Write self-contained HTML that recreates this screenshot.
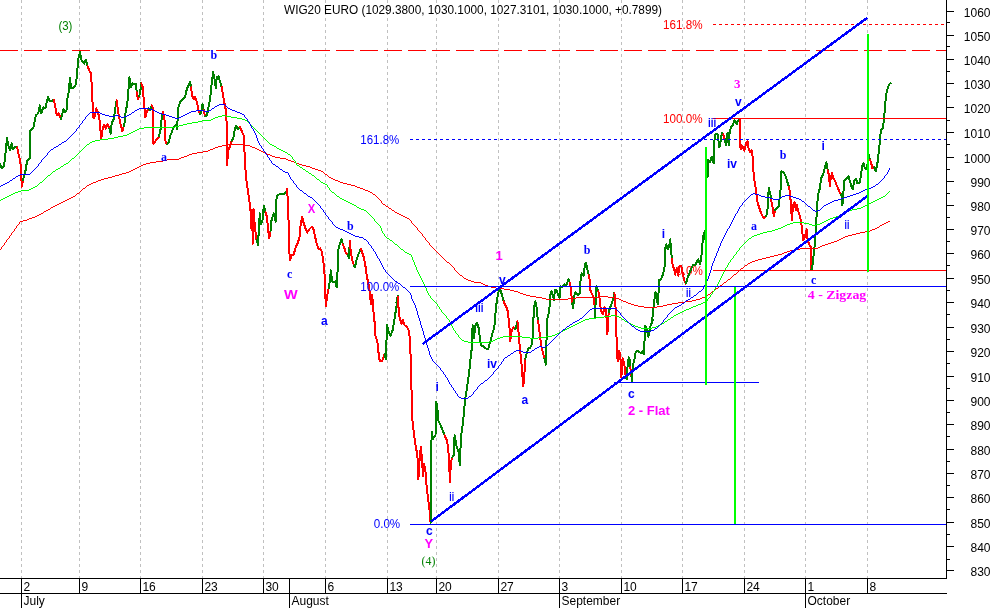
<!DOCTYPE html>
<html><head><meta charset="utf-8"><title>WIG20 EURO</title>
<style>html,body{margin:0;padding:0;background:#fff}svg{display:block}text{font-family:"Liberation Sans",Arial,sans-serif;font-size:12px}.b{font-weight:bold}</style></head><body>
<svg width="994" height="608" viewBox="0 0 994 608">
<rect width="994" height="608" fill="#fff"/>
<g stroke="#c0c0c0" stroke-width="1" stroke-dasharray="3 3" shape-rendering="crispEdges">
<line x1="21.5" y1="0" x2="21.5" y2="578"/>
<line x1="79.5" y1="0" x2="79.5" y2="578"/>
<line x1="140.5" y1="0" x2="140.5" y2="578"/>
<line x1="202.5" y1="0" x2="202.5" y2="578"/>
<line x1="263.5" y1="0" x2="263.5" y2="578"/>
<line x1="325.5" y1="0" x2="325.5" y2="578"/>
<line x1="387.5" y1="0" x2="387.5" y2="578"/>
<line x1="436.5" y1="0" x2="436.5" y2="578"/>
<line x1="498.5" y1="0" x2="498.5" y2="578"/>
<line x1="559.5" y1="0" x2="559.5" y2="578"/>
<line x1="621.5" y1="0" x2="621.5" y2="578"/>
<line x1="682.5" y1="0" x2="682.5" y2="578"/>
<line x1="744.5" y1="0" x2="744.5" y2="578"/>
<line x1="805.5" y1="0" x2="805.5" y2="578"/>
<line x1="867.5" y1="0" x2="867.5" y2="578"/>
</g>
<text x="676.3" y="274.6" fill="#f00" style='font-family:"Liberation Sans",Arial,sans-serif;font-size:12px' textLength="26.5" lengthAdjust="spacingAndGlyphs">0.0%</text>
<polyline points="0.0,164.4 2.0,168.4 4.0,166.4 5.6,152.3 7.0,138.2 8.5,146.3 10.1,150.3 11.7,143.3 13.1,149.3 15.1,146.7 17.1,147.3" fill="none" stroke="#008000" stroke-width="2" stroke-linejoin="round" stroke-linecap="round" shape-rendering="crispEdges"/>
<polyline points="17.1,147.3 18.5,154.3 20.1,160.4 21.1,168.4 21.7,186.9 22.3,183.5 23.1,180.1" fill="none" stroke="#f00" stroke-width="2" stroke-linejoin="round" stroke-linecap="round" shape-rendering="crispEdges"/>
<polyline points="23.1,180.1 24.1,175.5 25.2,172.4 27.2,160.4 29.8,158.4 30.0,140.2" fill="none" stroke="#008000" stroke-width="2" stroke-linejoin="round" stroke-linecap="round" shape-rendering="crispEdges"/>
<polyline points="30.0,140.2 30.0,140.6 30.2,130.5 33.2,128.5 35.8,115.5 38.2,113.4 39.8,105.4 41.2,113.4 43.3,107.4 45.3,108.4 47.9,97.3 49.9,101.4 52.7,100.4 53.9,100.0" fill="none" stroke="#008000" stroke-width="2" stroke-linejoin="round" stroke-linecap="round" shape-rendering="crispEdges"/>
<polyline points="53.9,100.0 55.3,106.4 56.7,115.5 58.8,113.4 60.8,118.9" fill="none" stroke="#f00" stroke-width="2" stroke-linejoin="round" stroke-linecap="round" shape-rendering="crispEdges"/>
<polyline points="60.8,118.9 62.0,115.5 63.4,109.4 64.8,112.4 66.4,111.4 67.4,98.4 68.8,91.3 70.0,78.2 71.0,88.3 72.8,88.3 75.5,85.3 76.9,76.2 78.1,60.1 79.9,52.1 81.5,60.1 84.1,63.7 85.9,59.7 87.5,65.8" fill="none" stroke="#008000" stroke-width="2" stroke-linejoin="round" stroke-linecap="round" shape-rendering="crispEdges"/>
<polyline points="87.5,65.8 89.5,71.2 90.9,73.2 92.2,92.3 93.0,117.5 94.2,118.5 96.2,108.4 98.2,112.8 99.6,120.5 101.2,138.6 102.6,129.5 104.2,124.5 105.6,128.5 107.6,124.1 109.3,128.5" fill="none" stroke="#f00" stroke-width="2" stroke-linejoin="round" stroke-linecap="round" shape-rendering="crispEdges"/>
<polyline points="109.3,128.5 110.7,133.6 111.7,122.5 113.7,119.5 115.1,109.4 116.7,100.4" fill="none" stroke="#008000" stroke-width="2" stroke-linejoin="round" stroke-linecap="round" shape-rendering="crispEdges"/>
<polyline points="116.7,100.4 117.7,108.4 119.1,117.5 120.7,124.5 122.3,131.5 123.7,126.5" fill="none" stroke="#f00" stroke-width="2" stroke-linejoin="round" stroke-linecap="round" shape-rendering="crispEdges"/>
<polyline points="123.7,126.5 124.7,122.5 125.8,109.4 127.2,105.4 128.4,90.3 129.4,77.2 130.8,87.3 132.4,83.3 134.4,84.3 135.8,83.9 136.8,92.3" fill="none" stroke="#008000" stroke-width="2" stroke-linejoin="round" stroke-linecap="round" shape-rendering="crispEdges"/>
<polyline points="136.8,92.3 138.0,99.4 139.2,96.3" fill="none" stroke="#f00" stroke-width="2" stroke-linejoin="round" stroke-linecap="round" shape-rendering="crispEdges"/>
<polyline points="139.2,96.3 140.2,92.3 141.2,83.3" fill="none" stroke="#008000" stroke-width="2" stroke-linejoin="round" stroke-linecap="round" shape-rendering="crispEdges"/>
<polyline points="141.2,83.3 142.5,86.3 143.9,100.4 145.3,117.5 146.9,111.4 148.5,108.4" fill="none" stroke="#f00" stroke-width="2" stroke-linejoin="round" stroke-linecap="round" shape-rendering="crispEdges"/>
<polyline points="148.5,108.4 149.9,110.4 151.9,105.4" fill="none" stroke="#008000" stroke-width="2" stroke-linejoin="round" stroke-linecap="round" shape-rendering="crispEdges"/>
<polyline points="151.9,105.4 152.9,108.4 153.3,143.6 155.9,140.6 159.0,136.6" fill="none" stroke="#f00" stroke-width="2" stroke-linejoin="round" stroke-linecap="round" shape-rendering="crispEdges"/>
<polyline points="159.0,136.6 160.4,130.5 161.6,119.5 163.0,111.4" fill="none" stroke="#008000" stroke-width="2" stroke-linejoin="round" stroke-linecap="round" shape-rendering="crispEdges"/>
<polyline points="163.0,111.4 164.4,117.5 165.4,140.6 167.0,144.6" fill="none" stroke="#f00" stroke-width="2" stroke-linejoin="round" stroke-linecap="round" shape-rendering="crispEdges"/>
<polyline points="167.0,144.6 168.6,142.6 170.0,136.6 172.0,131.5 174.0,126.5 176.1,124.5 177.1,129.5 178.1,108.4 180.1,102.4" fill="none" stroke="#008000" stroke-width="2" stroke-linejoin="round" stroke-linecap="round" shape-rendering="crispEdges"/>
<polyline points="180.1,102.4 180.0,102.4 182.0,100.4 185.0,97.3 187.0,88.3 190.1,82.3 191.1,87.3" fill="none" stroke="#008000" stroke-width="2" stroke-linejoin="round" stroke-linecap="round" shape-rendering="crispEdges"/>
<polyline points="191.1,87.3 192.1,95.3 193.7,99.4 195.1,97.3 197.1,102.4 198.5,110.4 200.1,114.4" fill="none" stroke="#f00" stroke-width="2" stroke-linejoin="round" stroke-linecap="round" shape-rendering="crispEdges"/>
<polyline points="200.1,114.4 201.1,112.4 202.5,104.0 203.7,110.4" fill="none" stroke="#008000" stroke-width="2" stroke-linejoin="round" stroke-linecap="round" shape-rendering="crispEdges"/>
<polyline points="203.7,110.4 205.2,116.5" fill="none" stroke="#f00" stroke-width="2" stroke-linejoin="round" stroke-linecap="round" shape-rendering="crispEdges"/>
<polyline points="205.2,116.5 207.2,114.4 208.2,108.4 210.2,98.4 211.8,82.3 213.2,72.2 214.6,79.2 215.8,88.3 216.8,77.2 218.6,76.2 220.2,82.3 221.6,86.7" fill="none" stroke="#008000" stroke-width="2" stroke-linejoin="round" stroke-linecap="round" shape-rendering="crispEdges"/>
<polyline points="221.6,86.7 222.9,94.3 224.3,102.4 225.9,110.4 226.7,124.5 227.3,148.7 227.3,164.7" fill="none" stroke="#f00" stroke-width="2" stroke-linejoin="round" stroke-linecap="round" shape-rendering="crispEdges"/>
<polyline points="227.3,164.7 227.3,164.1 226.9,165.2 228.3,150.1 230.3,146.0 231.9,140.0" fill="none" stroke="#f00" stroke-width="2" stroke-linejoin="round" stroke-linecap="round" shape-rendering="crispEdges"/>
<polyline points="231.9,140.0 231.9,140.6" fill="none" stroke="#f00" stroke-width="2" stroke-linejoin="round" stroke-linecap="round" shape-rendering="crispEdges"/>
<polyline points="231.9,140.6 233.3,138.6 234.7,129.5 235.9,125.5 237.9,129.5 239.8,126.5" fill="none" stroke="#008000" stroke-width="2" stroke-linejoin="round" stroke-linecap="round" shape-rendering="crispEdges"/>
<polyline points="239.8,126.5 241.4,130.5 243.4,134.6 244.4,140.6 244.6,160.7" fill="none" stroke="#f00" stroke-width="2" stroke-linejoin="round" stroke-linecap="round" shape-rendering="crispEdges"/>
<polyline points="244.6,160.7 244.6,160.1 246.4,180.2 248.4,194.3 250.4,208.4 251.4,228.5 252.0,209.4 252.8,243.6 253.6,209.4 254.8,226.5 256.5,239.6" fill="none" stroke="#f00" stroke-width="2" stroke-linejoin="round" stroke-linecap="round" shape-rendering="crispEdges"/>
<polyline points="256.5,239.6 258.1,245.6 258.9,226.5 259.9,213.4 260.9,224.5 262.5,220.5 263.9,205.4 265.5,212.4" fill="none" stroke="#008000" stroke-width="2" stroke-linejoin="round" stroke-linecap="round" shape-rendering="crispEdges"/>
<polyline points="265.5,212.4 266.5,215.5 267.9,226.5 269.1,238.6 270.5,231.5" fill="none" stroke="#f00" stroke-width="2" stroke-linejoin="round" stroke-linecap="round" shape-rendering="crispEdges"/>
<polyline points="270.5,231.5 271.5,220.5 273.6,213.4 275.6,221.5 276.2,200.4 277.6,194.7 280.6,194.3 283.6,193.9 286.2,192.7 287.0,189.3" fill="none" stroke="#008000" stroke-width="2" stroke-linejoin="round" stroke-linecap="round" shape-rendering="crispEdges"/>
<polyline points="287.0,189.3 287.6,197.3 288.7,224.5 289.3,252.7 290.3,259.7" fill="none" stroke="#f00" stroke-width="2" stroke-linejoin="round" stroke-linecap="round" shape-rendering="crispEdges"/>
<polyline points="290.3,259.7 290.1,260.0 291.7,255.3 293.7,254.3 295.7,247.3 297.7,243.3 299.7,236.2 300.7,224.1 302.1,217.1 303.7,223.1 305.8,229.2 307.2,232.6 309.8,228.6 312.2,226.6 313.8,230.2 315.2,237.2 316.6,243.3 318.6,249.3 320.2,248.3 321.9,251.9 323.3,260.4 324.7,276.5 325.3,294.6 325.9,306.2 327.3,294.6 328.7,288.5" fill="none" stroke="#f00" stroke-width="2" stroke-linejoin="round" stroke-linecap="round" shape-rendering="crispEdges"/>
<polyline points="328.7,288.5 329.9,280.5 330.9,270.4 331.9,280.5 333.9,282.5 335.3,281.5 336.7,287.5 337.7,268.4 338.4,249.3 340.0,243.3 341.4,239.2 342.8,244.3" fill="none" stroke="#008000" stroke-width="2" stroke-linejoin="round" stroke-linecap="round" shape-rendering="crispEdges"/>
<polyline points="342.8,244.3 344.4,248.3 346.0,253.3 348.0,255.3" fill="none" stroke="#f00" stroke-width="2" stroke-linejoin="round" stroke-linecap="round" shape-rendering="crispEdges"/>
<polyline points="348.0,255.3 349.0,258.4 349.8,241.2" fill="none" stroke="#008000" stroke-width="2" stroke-linejoin="round" stroke-linecap="round" shape-rendering="crispEdges"/>
<polyline points="349.8,241.2 350.8,252.3 352.4,260.4 354.0,265.4" fill="none" stroke="#f00" stroke-width="2" stroke-linejoin="round" stroke-linecap="round" shape-rendering="crispEdges"/>
<polyline points="354.0,265.4 355.1,267.4 356.5,260.4 358.5,254.3 360.9,248.7" fill="none" stroke="#008000" stroke-width="2" stroke-linejoin="round" stroke-linecap="round" shape-rendering="crispEdges"/>
<polyline points="360.9,248.7 362.5,253.3 364.1,258.4 365.5,266.4 366.9,276.5 368.5,284.5 370.1,294.6 370.9,304.6 372.2,294.6 373.2,309.7 374.6,321.9" fill="none" stroke="#f00" stroke-width="2" stroke-linejoin="round" stroke-linecap="round" shape-rendering="crispEdges"/>
<polyline points="374.6,321.9 374.4,320.1 375.5,336.2 376.9,340.2 378.1,346.3 378.9,358.4 380.5,361.4 382.5,360.4 384.5,354.3" fill="none" stroke="#f00" stroke-width="2" stroke-linejoin="round" stroke-linecap="round" shape-rendering="crispEdges"/>
<polyline points="384.5,354.3 385.9,359.4 386.5,340.2 387.1,325.2 388.5,331.2 390.5,336.2 392.6,330.2 394.6,318.1 396.6,306.0 397.8,296.0" fill="none" stroke="#008000" stroke-width="2" stroke-linejoin="round" stroke-linecap="round" shape-rendering="crispEdges"/>
<polyline points="397.8,296.0 396.3,302.6 397.7,296.6" fill="none" stroke="#008000" stroke-width="2" stroke-linejoin="round" stroke-linecap="round" shape-rendering="crispEdges"/>
<polyline points="397.7,296.6 398.3,304.6 399.1,315.7 400.7,320.7" fill="none" stroke="#f00" stroke-width="2" stroke-linejoin="round" stroke-linecap="round" shape-rendering="crispEdges"/>
<polyline points="400.7,320.7 400.2,320.1 401.6,324.1 403.0,320.1 404.6,325.2 406.6,326.2 408.7,330.2 410.3,342.3 410.7,364.4 411.1,386.5 412.3,396.6 412.3,410.7" fill="none" stroke="#f00" stroke-width="2" stroke-linejoin="round" stroke-linecap="round" shape-rendering="crispEdges"/>
<polyline points="412.3,410.7 411.9,410.0 412.7,424.1 414.3,436.2 415.9,448.2 417.3,453.3 418.4,479.4 419.4,462.3 420.8,447.2 422.0,458.3 423.0,476.4 424.0,464.3 425.4,470.4 426.4,484.4 428.0,498.5 429.4,508.6 430.6,522.7" fill="none" stroke="#f00" stroke-width="2" stroke-linejoin="round" stroke-linecap="round" shape-rendering="crispEdges"/>
<polyline points="430.6,522.7 431.2,506.6 431.2,445.2 432.0,432.1 432.8,439.2 435.5,435.2 436.1,410.0 436.3,402.0 437.5,410.0 438.1,420.1 440.5,425.1 442.5,430.1 444.5,435.2" fill="none" stroke="#008000" stroke-width="2" stroke-linejoin="round" stroke-linecap="round" shape-rendering="crispEdges"/>
<polyline points="444.5,435.2 446.9,440.2 448.1,448.2 449.1,460.3 449.9,482.4 450.9,462.3 452.2,457.3" fill="none" stroke="#f00" stroke-width="2" stroke-linejoin="round" stroke-linecap="round" shape-rendering="crispEdges"/>
<polyline points="452.2,457.3 453.6,455.3 454.6,435.2 456.6,446.2 458.6,452.3 459.8,465.3 460.6,446.2 461.6,432.1 463.0,422.1 464.2,410.0" fill="none" stroke="#008000" stroke-width="2" stroke-linejoin="round" stroke-linecap="round" shape-rendering="crispEdges"/>
<polyline points="464.2,410.0 464.0,412.7 465.0,400.6 466.6,390.5 468.0,380.5 469.4,370.4 470.6,358.4 472.0,346.3 472.6,325.2 474.0,338.2 475.1,326.2 477.1,322.5 478.7,328.2 480.1,340.2 481.1,345.3 483.1,346.3 485.1,348.3 488.1,349.3 490.1,342.3 492.2,334.2 494.2,328.2 495.6,312.1 496.8,300.0" fill="none" stroke="#008000" stroke-width="2" stroke-linejoin="round" stroke-linecap="round" shape-rendering="crispEdges"/>
<polyline points="496.8,300.0 495.7,310.3 497.1,299.2 499.1,289.2 500.1,288.2 501.7,294.2 503.7,301.2" fill="none" stroke="#008000" stroke-width="2" stroke-linejoin="round" stroke-linecap="round" shape-rendering="crispEdges"/>
<polyline points="503.7,301.2 505.2,305.3 507.2,308.3 508.6,318.4 509.8,330.4 510.2,341.5 511.2,332.4 513.2,327.4 515.2,329.4" fill="none" stroke="#f00" stroke-width="2" stroke-linejoin="round" stroke-linecap="round" shape-rendering="crispEdges"/>
<polyline points="515.2,329.4 516.2,326.4 517.4,321.4" fill="none" stroke="#008000" stroke-width="2" stroke-linejoin="round" stroke-linecap="round" shape-rendering="crispEdges"/>
<polyline points="517.4,321.4 518.2,328.4 519.2,340.5 520.2,350.5 521.2,360.6 522.3,372.7 522.9,385.8 523.9,381.9 524.7,368.7 525.3,358.6" fill="none" stroke="#f00" stroke-width="2" stroke-linejoin="round" stroke-linecap="round" shape-rendering="crispEdges"/>
<polyline points="525.3,358.6 526.3,354.6 528.3,348.5 530.3,347.5 531.9,344.5 532.7,336.5 533.3,320.4 534.3,306.3 535.3,301.2 536.7,308.3 537.9,320.4" fill="none" stroke="#008000" stroke-width="2" stroke-linejoin="round" stroke-linecap="round" shape-rendering="crispEdges"/>
<polyline points="537.9,320.4 539.0,326.4 540.0,336.5 541.4,346.5 542.8,352.6 544.4,358.6" fill="none" stroke="#f00" stroke-width="2" stroke-linejoin="round" stroke-linecap="round" shape-rendering="crispEdges"/>
<polyline points="544.4,358.6 545.8,364.6 546.4,344.5 547.0,320.4 548.4,314.3 549.4,308.3 550.4,294.2 551.4,291.2 552.8,295.2 554.0,300.2 554.8,290.2 556.5,290.2 558.1,294.2 559.5,298.2 560.5,286.2 562.5,287.2 564.5,284.1 566.5,285.2 568.5,279.1 569.9,283.1" fill="none" stroke="#008000" stroke-width="2" stroke-linejoin="round" stroke-linecap="round" shape-rendering="crispEdges"/>
<polyline points="569.9,283.1 570.9,290.2 572.2,303.3" fill="none" stroke="#f00" stroke-width="2" stroke-linejoin="round" stroke-linecap="round" shape-rendering="crispEdges"/>
<polyline points="572.2,303.3 573.2,308.3 574.0,296.2 575.6,292.2 577.6,295.2 579.6,293.2 580.6,280.1 581.6,273.1 583.6,276.1 585.0,264.0 586.2,263.0 587.6,270.1 588.7,275.1" fill="none" stroke="#008000" stroke-width="2" stroke-linejoin="round" stroke-linecap="round" shape-rendering="crispEdges"/>
<polyline points="588.7,275.1 589.7,280.1 590.3,290.2 591.7,293.2 593.7,297.2 594.7,306.3" fill="none" stroke="#f00" stroke-width="2" stroke-linejoin="round" stroke-linecap="round" shape-rendering="crispEdges"/>
<polyline points="594.7,306.3 595.3,318.4 595.7,293.2 596.7,286.2 598.3,291.2" fill="none" stroke="#008000" stroke-width="2" stroke-linejoin="round" stroke-linecap="round" shape-rendering="crispEdges"/>
<polyline points="598.3,291.2 599.3,296.2 600.3,306.3 601.7,312.3 603.1,313.9 604.3,307.3 605.8,310.3 606.8,320.4 607.4,334.4 608.2,318.4 608.8,312.3" fill="none" stroke="#f00" stroke-width="2" stroke-linejoin="round" stroke-linecap="round" shape-rendering="crispEdges"/>
<polyline points="608.8,312.3 609.8,308.3 611.8,303.3 613.2,298.2 614.2,293.2" fill="none" stroke="#008000" stroke-width="2" stroke-linejoin="round" stroke-linecap="round" shape-rendering="crispEdges"/>
<polyline points="614.2,293.2 615.2,296.2 615.8,316.3" fill="none" stroke="#f00" stroke-width="2" stroke-linejoin="round" stroke-linecap="round" shape-rendering="crispEdges"/>
<polyline points="615.8,316.3 616.2,320.0 616.4,335.1 617.0,345.2 617.2,358.2 618.2,361.2 619.2,351.2 620.2,354.2 620.7,362.3 621.4,377.3 622.2,360.2 622.7,358.2 623.7,362.3 624.7,367.3 625.7,376.3" fill="none" stroke="#f00" stroke-width="2" stroke-linejoin="round" stroke-linecap="round" shape-rendering="crispEdges"/>
<polyline points="625.7,376.3 626.7,379.4 627.4,368.3 628.7,357.2 629.7,360.2 630.2,367.3" fill="none" stroke="#008000" stroke-width="2" stroke-linejoin="round" stroke-linecap="round" shape-rendering="crispEdges"/>
<polyline points="630.2,367.3 630.7,370.3 631.4,376.3" fill="none" stroke="#f00" stroke-width="2" stroke-linejoin="round" stroke-linecap="round" shape-rendering="crispEdges"/>
<polyline points="631.4,376.3 632.1,381.0 632.8,365.3 634.3,360.2 635.3,353.2 636.3,351.7 637.8,350.7 639.3,352.2 641.3,353.2 642.8,351.2 643.8,354.2 644.3,345.2 644.8,335.1 645.3,325.5 646.3,328.0 647.3,332.1 648.4,336.6 649.4,331.1 650.4,326.0 651.6,323.5 652.9,320.0" fill="none" stroke="#008000" stroke-width="2" stroke-linejoin="round" stroke-linecap="round" shape-rendering="crispEdges"/>
<polyline points="652.9,320.0 652.0,322.4 653.0,312.3 654.0,302.3 655.5,292.2 656.7,298.2 657.7,304.3 658.7,290.2 659.1,280.1 661.1,279.1 663.1,274.1 664.7,266.0 665.5,260.0" fill="none" stroke="#008000" stroke-width="2" stroke-linejoin="round" stroke-linecap="round" shape-rendering="crispEdges"/>
<polyline points="665.5,260.0 665.2,248.4 666.2,244.4 667.8,249.4 669.2,246.4 670.2,239.4 671.2,250.4 671.8,258.5" fill="none" stroke="#008000" stroke-width="2" stroke-linejoin="round" stroke-linecap="round" shape-rendering="crispEdges"/>
<polyline points="671.8,258.5 672.6,264.5 674.2,269.5 675.2,274.6 676.6,268.5 678.2,275.6 679.2,266.5 681.2,265.5 682.7,272.6 684.3,280.6 685.9,283.6" fill="none" stroke="#f00" stroke-width="2" stroke-linejoin="round" stroke-linecap="round" shape-rendering="crispEdges"/>
<polyline points="685.9,283.6 687.3,278.6 689.3,273.6 691.3,268.5 693.3,264.5 695.3,265.5 697.3,260.5 698.4,259.5 700.0,264.5 701.4,256.5 702.4,244.4 703.4,235.3 704.8,231.3 705.6,240.4" fill="none" stroke="#008000" stroke-width="2" stroke-linejoin="round" stroke-linecap="round" shape-rendering="crispEdges"/>
<polyline points="705.6,240.4 705.6,240.4 706.0,230.0 706.0,178.0 707.5,177.0" fill="none" stroke="#008000" stroke-width="2" stroke-linejoin="round" stroke-linecap="round" shape-rendering="crispEdges"/>
<polyline points="707.5,177.0 707.5,160.0" fill="none" stroke="#008000" stroke-width="2" stroke-linejoin="round" stroke-linecap="round" shape-rendering="crispEdges"/>
<polyline points="707.5,160.0 707.5,159.8 709.1,160.8 710.1,162.3 711.6,156.8 712.6,159.3 713.6,163.4 713.9,145.2 715.1,135.2 716.6,133.7 717.9,135.2 719.1,147.3 720.1,145.2 721.1,137.2 722.3,132.7 723.3,134.2" fill="none" stroke="#008000" stroke-width="2" stroke-linejoin="round" stroke-linecap="round" shape-rendering="crispEdges"/>
<polyline points="723.3,134.2 724.1,138.2 724.9,142.2" fill="none" stroke="#f00" stroke-width="2" stroke-linejoin="round" stroke-linecap="round" shape-rendering="crispEdges"/>
<polyline points="724.9,142.2 725.7,139.2 726.4,145.2 727.0,134.2 727.7,132.7 728.7,145.2 729.4,134.2 730.2,130.2 731.4,126.1 732.7,125.1 733.7,122.6 734.7,120.1 735.7,122.1 736.7,124.1 737.7,121.6 739.2,119.6 740.2,119.1" fill="none" stroke="#008000" stroke-width="2" stroke-linejoin="round" stroke-linecap="round" shape-rendering="crispEdges"/>
<polyline points="740.2,119.1 740.0,130.2 740.0,143.2 740.7,149.3 741.8,145.2 742.8,147.3 744.3,150.8 745.3,147.3 746.5,142.2 747.5,141.2 748.3,147.3 749.3,150.3 750.3,152.3 751.5,150.3 752.3,155.3 753.1,157.3 753.3,166.0" fill="none" stroke="#f00" stroke-width="2" stroke-linejoin="round" stroke-linecap="round" shape-rendering="crispEdges"/>
<polyline points="753.3,166.0 753.7,176.5" fill="none" stroke="#f00" stroke-width="2" stroke-linejoin="round" stroke-linecap="round" shape-rendering="crispEdges"/>
<polyline points="753.7,176.5 755.7,188.0 757.1,200.1 758.7,206.2 760.7,212.2 763.7,218.2 765.8,216.2" fill="none" stroke="#f00" stroke-width="2" stroke-linejoin="round" stroke-linecap="round" shape-rendering="crispEdges"/>
<polyline points="765.8,216.2 767.2,214.2 768.0,200.1 768.8,188.0 770.4,194.1 771.2,200.1" fill="none" stroke="#008000" stroke-width="2" stroke-linejoin="round" stroke-linecap="round" shape-rendering="crispEdges"/>
<polyline points="771.2,200.1 772.4,206.2 773.8,216.2 775.2,210.2" fill="none" stroke="#f00" stroke-width="2" stroke-linejoin="round" stroke-linecap="round" shape-rendering="crispEdges"/>
<polyline points="775.2,210.2 776.8,208.2 778.8,206.2 779.8,196.1 780.8,188.0" fill="none" stroke="#008000" stroke-width="2" stroke-linejoin="round" stroke-linecap="round" shape-rendering="crispEdges"/>
<polyline points="780.8,188.0 780.8,184.5 781.4,171.4 783.9,172.4 785.3,175.5 786.9,180.5 788.9,186.5" fill="none" stroke="#008000" stroke-width="2" stroke-linejoin="round" stroke-linecap="round" shape-rendering="crispEdges"/>
<polyline points="788.9,186.5 789.9,192.1 790.9,204.1 791.9,220.2 792.9,206.2 794.5,202.1 795.9,210.2 796.9,205.2 798.6,212.2 800.0,216.2 801.4,224.3 802.6,234.3 803.4,240.4 805.0,236.3 806.6,229.3 807.4,238.4 809.0,244.4 810.6,246.4 811.4,270.1" fill="none" stroke="#f00" stroke-width="2" stroke-linejoin="round" stroke-linecap="round" shape-rendering="crispEdges"/>
<polyline points="811.4,270.1 812.4,265.5 813.0,260.5 814.0,252.4 815.1,240.4 816.1,224.3 817.1,206.2 818.1,194.1" fill="none" stroke="#008000" stroke-width="2" stroke-linejoin="round" stroke-linecap="round" shape-rendering="crispEdges"/>
<polyline points="818.1,194.1 818.2,194.3 819.8,188.3 821.2,178.2 823.3,174.2 824.7,168.2 826.3,162.1 827.7,170.2" fill="none" stroke="#008000" stroke-width="2" stroke-linejoin="round" stroke-linecap="round" shape-rendering="crispEdges"/>
<polyline points="827.7,170.2 828.9,175.2 829.9,186.3 830.7,178.2 831.9,173.2 833.3,178.2 834.7,180.2 836.3,184.3 838.4,189.3 840.0,193.3 841.4,194.3" fill="none" stroke="#f00" stroke-width="2" stroke-linejoin="round" stroke-linecap="round" shape-rendering="crispEdges"/>
<polyline points="841.4,194.3 842.4,205.4 843.4,192.3 844.4,180.2 846.4,178.2 848.4,176.2 850.0,181.2 851.4,186.3 852.8,189.3 854.4,180.2 856.1,179.2 857.5,183.3 859.5,183.3 860.9,176.2 862.1,166.2 863.5,163.1 864.9,168.2 866.5,169.2 867.9,162.1 868.9,155.1 869.9,160.1" fill="none" stroke="#008000" stroke-width="2" stroke-linejoin="round" stroke-linecap="round" shape-rendering="crispEdges"/>
<polyline points="869.9,160.1 871.1,162.1 872.2,168.2 874.2,167.2" fill="none" stroke="#f00" stroke-width="2" stroke-linejoin="round" stroke-linecap="round" shape-rendering="crispEdges"/>
<polyline points="874.2,167.2 875.8,171.2 877.6,162.1 879.0,150.1 880.0,140.0" fill="none" stroke="#008000" stroke-width="2" stroke-linejoin="round" stroke-linecap="round" shape-rendering="crispEdges"/>
<polyline points="880.0,140.0 881.0,129.4 882.6,128.4 884.0,120.4 885.0,106.3 886.2,94.2 887.6,88.2 889.7,83.7 890.7,83.1" fill="none" stroke="#008000" stroke-width="2" stroke-linejoin="round" stroke-linecap="round" shape-rendering="crispEdges"/>
<path d="M0.5 249v1m1 -3v2m1 -3v1m1 -2v1m1 -3v2m1 -3v1m1 -3v2m1 -3v1m1 -2v1m1 -3v2m1 -3v1m1 -3v2m1 -3v1m1 -2v1m1 -3v2m1 -3v1m1 -3v2m1 -3v1m1 -2v1m1 -3v2m1 -3v1m1 -1v1m1 -1v1m1 -2v1m1 -1v1m1 -1v1m1 -1v1m1 -2v1m1 -1v1m1 -2v1m1 -1v1m1 -1v1m1 -2v1m1 -1v1m1 -1v1m1 -2v1m1 -1v1m1 -2v1m1 -1v1m1 -2v1m1 -1v1m1 -2v1m1 -1v1m1 -2v1m1 -2v1m1 -1v1m1 -2v1m1 -1v1m1 -2v1m1 -1v1m1 -2v1m1 -2v1m1 -1v1m1 -2v1m1 -1v1m1 -2v1m1 -1v1m1 -2v1m1 -1v1m1 -2v1m1 -1v1m1 -2v1m1 -1v1m1 -2v1m1 -1v1m1 -2v1m1 -1v1m1 -2v1m1 -1v1m1 -2v1m1 -1v1m1 -2v1m1 -1v1m1 -2v1m1 -1v1m1 -2v1m1 -2v1m1 -2v1m1 -1v1m1 -2v1m1 -2v1m1 -2v1m1 -2v1m1 -2v1m1 -1v1m1 -2v1m1 -2v1m1 -2v1m1 -1v1m1 -2v1m1 -1v1m1 -2v1m1 -1v1m1 -2v1m1 -1v1m1 -1v1m1 -2v1m1 -1v1m1 -2v1m1 -1v1m1 -1v1m1 -2v1m1 -1v1m1 -1v1m1 -2v1m1 -1v1m1 -1v1m1 -1v1m1 -2v1m1 -1v1m1 -1v1m1 -1v1m1 -2v1m1 -1v1m1 -1v1m1 -2v1m1 -1v1m1 -1v1m1 -1v1m1 -2v1m1 -1v1m1 -1v1m1 -2v1m1 -1v1m1 -1v1m1 -1v1m1 -2v1m1 -1v1m1 -1v1m1 -2v1m1 -1v1m1 -2v1m1 -1v1m1 -2v1m1 -1v1m1 -2v1m1 -1v1m1 -2v1m1 -1v1m1 -2v1m1 -1v1m1 -2v1m1 -1v1m1 -2v1m1 -1v1m1 -1v1m1 -2v1m1 -1v1m1 -1v1m1 -1v1m1 -2v1m1 -1v1m1 -1v1m1 -1v1m1 -1v1m1 -1v1m1 -2v1m1 -1v1m1 -1v1m1 -1v1m1 -1v1m1 -1v1m1 -1v1m1 -2v1m1 -1v1m1 -1v1m1 -1v1m1 -2v1m1 -1v1m1 -1v1m1 -1v1m1 -1v1m1 -1v1m1 -1v1m1 -1v1m1 -1v1m1 -1v1m1 -1v1m1 -1v1m1 -2v1m1 -1v1m1 -2v1m1 -1v1m1 -1v1m1 -2v1m1 -1v1m1 -1v1m1 -2v1m1 -1v1m1 -2v1m1 -1v1m1 -1v1m1 -2v1m1 -1v1m1 -1v1m1 -1v1m1 -1v1m1 -2v1m1 -1v1m1 -1v1m1 -1v1m1 -1v1m1 -1v1m1 -2v1m1 -1v1m1 -1v1m1 -1v1m1 -1v1m1 -2v1m1 -1v1m1 -2v1m1 -1v1m1 -1v1m1 -2v1m1 -1v1m1 -2v1m1 -1v1m1 -1v1m1 -2v1m1 -1v1m1 -1v1m1 -1v1m1 -2v1m1 -1v1m1 -1v1m1 -1v1m1 -1v1m1 -1v1m1 -2v1m1 -1v1m1 -1v1m1 -1v1m1 -1v1m1 -1v1m1 -1v1m1 -1v1m1 -1v1m1 -1v1m1 -1v1m1 -1v1m1 -1v1m1 -1v1m1 -1v1m1 -1v1m1 0v1m1 -1v1m1 -1v1m1 -1v1m1 -1v1m1 -1v1m1 0v1m1 -1v1m1 0v1m1 -1v1m1 -1v1m1 0v1m1 -1v1m1 0v1m1 -1v1m1 0v1m1 -1v1m1 0v1m1 -1v1m1 0v1m1 -1v1m1 0v1m1 -1v1m1 0v1m1 -1v1m1 -1v1m1 0v1m1 -1v1m1 0v1m1 -1v1m1 -1v1m1 0v1m1 -1v1m1 -1v1m1 -1v1m1 -1v1m1 0v1m1 -1v1m1 -1v1m1 -1v1m1 -1v1m1 -1v1m1 0v1m1 -1v1m1 0v1m1 -1v1m1 -1v1m1 0v1m1 -1v1m1 -1v1m1 0v1m1 -1v1m1 0v1m1 -1v1m1 -1v1m1 0v1m1 -1v1m1 -1v1m1 0v1m1 -1v1m1 -1v1m1 -1v1m1 0v1m1 -1v1m1 -1v1m1 -1v1m1 0v1m1 -1v1m1 0v1m1 -1v1m1 -1v1m1 0v1m1 -1v1m1 -1v1m1 0v1m1 -1v1m1 -1v1m1 0v1m1 -1v1m1 0v1m1 0v1m1 0v1m1 -1v1m1 0v1m1 0v1m1 0v1m1 -1v1m1 0v1m1 -1v1m1 0v1m1 -1v1m1 0v1m1 -1v1m1 -1v1m1 0v1m1 -1v1m1 0v1m1 -1v1m1 -1v1m1 0v1m1 -1v1m1 -1v1m1 -1v1m1 0v1m1 -1v1m1 -1v1m1 -1v1m1 0v1m1 -1v1m1 -1v1m1 -1v1m1 0v1m1 -1v1m1 0v1m1 -1v1m1 -1v1m1 0v1m1 -1v1m1 -1v1m1 0v1m1 -1v1m1 0v1m1 -1v1m1 -1v1m1 0v1m1 -1v1m1 0v1m1 -1v1m1 0v1m1 0v1m1 -1v1m1 0v1m1 0v1m1 0v1m1 0v1m1 0v1m1 0v1m1 0v2m1 0v1m1 0v1m1 -1v1m1 0v1m1 0v1m1 -1v1m1 0v1m1 0v1m1 -1v1m1 0v1m1 0v1m1 -1v1m1 0v1m1 0v1m1 -1v1m1 0v1m1 -1v1m1 0v1m1 -1v1m1 0v1m1 -1v1m1 0v1m1 -1v1m1 0v1m1 -1v1m1 0v1m1 -1v1m1 0v1m1 0v1m1 0v2m1 0v1m1 0v1m1 0v1m1 0v1m1 0v1m1 0v2m1 0v1m1 0v1m1 0v1m1 0v1m1 0v2m1 0v1m1 0v1m1 0v2m1 0v1m1 0v1m1 0v1m1 0v2m1 0v1m1 0v1m1 0v1m1 0v1m1 0v1m1 0v1m1 0v1m1 0v1m1 0v1m1 0v1m1 0v1m1 0v1m1 0v1m1 0v1m1 0v1m1 0v1m1 0v1m1 0v1m1 -1v1m1 0v1m1 0v1m1 0v1m1 0v1m1 0v1m1 0v2m1 0v1m1 0v1m1 0v1m1 0v1m1 0v1m1 0v1m1 -1v1m1 0v1m1 0v1m1 0v1m1 -1v1m1 0v1m1 -1v1m1 0v1m1 -1v1m1 -1v1m1 0v1m1 -1v1m1 -1v1m1 0v1m1 -1v1m1 -1v1m1 -1v1m1 -1v1m1 -1v1m1 -1v1m1 0v1m1 -1v1m1 0v1m1 -1v1m1 0v1m1 -1v1m1 -1v1m1 0v1m1 -1v1m1 -1v1m1 0v1m1 -1v1m1 -1v1m1 -1v1m1 -1v1m1 0v1m1 -1v1m1 -1v1m1 -1v1m1 -1v1m1 -1v1m1 -1v1m1 -1v1m1 0v1m1 -1v1m1 -1v1m1 -1v1m1 -1v1m1 -1v1m1 0v1m1 -1v1m1 -1v1m1 -1v1m1 0v1m1 -1v1m1 -1v1m1 -1v1m1 0v1m1 -1v1m1 0v1m1 -1v1m1 -1v1m1 0v1m1 -1v1m1 -1v1m1 0v1m1 -1v1m1 -1v1m1 -1v1m1 0v1m1 -1v1m1 -1v1m1 -1v1m1 -1v1m1 -1v1m1 0v1m1 -1v1m1 -1v1m1 -1v1m1 -1v1m1 -1v1m1 0v1m1 -1v1m1 -1v1m1 -1v1m1 0v1m1 -1v1m1 -1v1m1 -1v1m1 -1v1m1 -1v1m1 -1v1m1 -1v1m1 -1v1m1 -1v1m1 -1v1m1 -1v1m1 -1v1m1 -1v1m1 -1v1m1 -1v1m1 -1v1m1 -1v1m1 -1v1m1 -1v1m1 -1v1m1 -1v1m1 -2v1m1 -1v1m1 -1v1m1 -1v1m1 -1v1m1 -1v1m1 -1v1m1 -1v1m1 -2v1m1 -1v1m1 -1v1m1 -1v1m1 -1v1m1 -1v1m1 -1v1m1 -1v1m1 -1v1m1 -1v1m1 -1v1m1 -1v1m1 -1v1m1 -1v1m1 -1v1m1 -1v1m1 -1v1m1 -1v1m1 -1v1m1 -1v1m1 -1v1m1 -1v1m1 -1v1m1 -1v1m1 -2v1m1 -1v1m1 -1v1m1 -1v1m1 -1v1m1 -1v1m1 -1v1m1 -1v1m1 0v1m1 -1v1m1 -1v1m1 -1v1m1 -1v1m1 -1v1m1 -1v1m1 0v1m1 -1v1m1 -1v1m1 -1v1m1 0v1m1 -1v1m1 0v1m1 -1v1m1 0v1m1 -1v1m1 -1v1m1 0v1m1 -1v1m1 0v1m1 -1v1m1 -1v1m1 0v1m1 -1v1m1 -1v1m1 0v1m1 -1v1m1 -1v1m1 -1v1m1 0v1m1 -1v1m1 -1v1m1 -1v1m1 -1v1m1 -1v1m1 0v1m1 -1v1m1 -1v1m1 -1v1m1 -1v1m1 -1v1m1 -1v1m1 -1v1m1 -1v1m1 -1v1m1 -1v1m1 -1v1m1 -1v1m1 -2v1m1 -1v1m1 -1v1m1 -1v1m1 -1v1m1 -1v1m1 -2v1m1 -1v1m1 -1v1m1 -1v1m1 -2v1m1 -1v1m1 -1v1m1 -1v1m1 -1v1m1 -2v1m1 -1v1m1 -1v1m1 -1v1m1 -1v1m1 -1v1m1 -2v1m1 -1v1m1 -1v1m1 -1v1m1 -1v1m1 -1v1m1 -1v1m1 -2v1m1 -1v1m1 -1v1m1 -1v1m1 -1v1m1 -1v1m1 -1v1m1 -2v1m1 -1v1m1 -1v1m1 -1v1m1 -2v1m1 -1v1m1 -1v1m1 -1v1m1 -2v1m1 -1v1m1 -2v1m1 -1v1m1 -1v1m1 -2v1m1 -1v1m1 -2v1m1 -2v1m1 -1v1m1 -2v1m1 -2v1m1 -2v1m1 -1v1m1 -2v1m1 -2v1m1 -2v1m1 -1v1m1 -2v1m1 -2v1m1 -2v1m1 -1v1m1 -2v1m1 -2v1m1 -2v1m1 -1v1m1 -2v1m1 -2v1m1 -2v1m1 -1v1m1 -2v1m1 -2v1m1 -2v1m1 -2v1m1 -2v1m1 -1v1m1 -2v1m1 -2v1m1 -2v1m1 -2v1m1 -2v1m1 -2v1m1 -1v1m1 -2v1m1 -2v1m1 -2v1m1 -1v1m1 -2v1m1 -2v1m1 -1v1m1 -2v1m1 -1v1m1 -2v1m1 -1v1m1 -1v1m1 -2v1m1 -1v1m1 -1v1m1 -2v1m1 -1v1m1 -1v1m1 -1v1m1 -2v1m1 -1v1m1 -1v1m1 -1v1m1 -2v1m1 -1v1m1 -1v1m1 -1v1m1 -2v1m1 -1v1m1 -1v1m1 -1v1m1 -2v1m1 -1v1m1 -1v1m1 -1v1m1 -2v1m1 -1v1m1 -1v1m1 -1v1m1 -2v1m1 -1v1m1 -2v1m1 -1v1m1 -1v1m1 -2v1m1 -1v1m1 -1v1m1 -2v1m1 -1v1m1 -1v1m1 -1v1m1 -2v1m1 -1v1m1 -1v1m1 -1v1m1 -1v1m1 -1v1m1 -2v1m1 -1v1m1 -1v1m1 -1v1m1 -1v1m1 -1v1m1 -1v1m1 -1v1m1 -1v1m1 -1v1m1 -1v1m1 -1v1m1 -1v1m1 -1v1m1 -1v1m1 -1v1m1 -1v1m1 -1v1m1 -2v1m1 -1v1m1 -2v1m1 -1v1m1 -2v1m1 -1v1m1 -1v1m1 -2v1m1 -1v1m1 -1v1m1 -2v1m1 -1v1m1 -1v1m1 -2v1m1 -1v1m1 -1v1m1 -2v1m1 -1v1m1 -1v1m1 -2v1m1 -1v1m1 -2v1m1 -1v1m1 -2v1m1 -1v1m1 -2v1m1 -1v1m1 -2v1m1 -1v1m1 -1v1m1 -2v1m1 -1v1m1 -1v1m1 -1v1m1 -2v1m1 -1v1m1 -1v1m1 -1v1m1 -2v1m1 -1v1m1 -1v1m1 -1v1m1 -2v1m1 -1v1m1 -1v1m1 -1v1m1 -1v1m1 -2v1m1 -1v1m1 -1v1m1 -1v1m1 -1v1m1 -2v1m1 -1v1m1 -2v1m1 -1v1m1 -1v1m1 -2v1m1 -1v1m1 -2v1m1 -1v1m1 -2v1m1 -2v1m1 -1v1m1 -2v1m1 -1v1m1 -2v1m1 -1v1m1 -2v1m1 -1v1m1 -2v1m1 -1v1" fill="none" stroke="#f00" stroke-width="1" shape-rendering="crispEdges"/>
<path d="M0.5 200v1m1 -2v1m1 -1v1m1 -2v1m1 -1v1m1 -2v1m1 -1v1m1 -2v1m1 -1v1m1 -2v1m1 -1v1m1 -2v1m1 -1v1m1 -2v1m1 -1v1m1 -2v1m1 -1v1m1 -1v1m1 -2v1m1 -1v1m1 -1v1m1 -2v1m1 -1v1m1 -1v1m1 -1v1m1 -1v1m1 -1v1m1 -1v1m1 -1v1m1 -2v1m1 -1v1m1 -2v1m1 -1v1m1 -2v1m1 -1v1m1 -2v1m1 -1v1m1 -2v1m1 -2v1m1 -2v1m1 -2v1m1 -1v1m1 -2v1m1 -2v1m1 -2v1m1 -2v1m1 -2v1m1 -2v1m1 -2v1m1 -1v1m1 -2v1m1 -2v1m1 -2v1m1 -2v1m1 -1v1m1 -2v1m1 -2v1m1 -1v1m1 -2v1m1 -1v1m1 -2v1m1 -2v1m1 -1v1m1 -2v1m1 -2v1m1 -1v1m1 -2v1m1 -1v1m1 -2v1m1 -2v1m1 -2v1m1 -2v1m1 -2v1m1 -1v1m1 -2v1m1 -2v1m1 -2v1m1 -2v1m1 -2v1m1 -2v1m1 -2v1m1 -2v1m1 -2v1m1 -2v1m1 -2v1m1 -2v1m1 -2v1m1 -2v1m1 -1v1m1 -2v1m1 -2v1m1 -1v1m1 -2v1m1 -1v1m1 -1v1m1 -2v1m1 -1v1m1 -1v1m1 -1v1m1 -1v1m1 -2v1m1 -1v1m1 -1v1m1 -1v1m1 -1v1m1 -1v1m1 -1v1m1 -1v1m1 -2v1m1 -1v1m1 -1v1m1 -1v1m1 -1v1m1 -1v1m1 -2v1m1 -1v1m1 -1v1m1 -1v1m1 -2v1m1 -1v1m1 -1v1m1 -1v1m1 -1v1m1 -2v1m1 -1v1m1 -1v1m1 -1v1m1 -2v1m1 -1v1m1 -2v1m1 -1v1m1 -2v1m1 -1v1m1 -2v1m1 -1v1m1 -2v1m1 -1v1m1 -2v1m1 -1v1m1 -2v1m1 -1v1m1 -1v1m1 -1v1m1 -1v1m1 -2v1m1 -1v1m1 -1v1m1 -1v1m1 -1v1m1 -1v1m1 -1v1m1 -1v1m1 -1v1m1 -1v1m1 -1v1m1 -1v1m1 -1v1m1 -1v1m1 -1v1m1 -1v1m1 -1v1m1 -1v1m1 -1v1m1 -1v1m1 -1v1m1 -1v1m1 -1v1m1 -1v1m1 -1v1m1 -1v1m1 -1v1m1 -1v1m1 -1v1m1 -1v1m1 -1v1m1 -2v1m1 -1v1m1 -1v1m1 -1v1m1 -2v1m1 -1v1m1 -1v1m1 -1v1m1 -2v1m1 -1v1m1 -1v1m1 -1v1m1 -2v1m1 -1v1m1 -1v1m1 -1v1m1 -1v1m1 -2v1m1 -1v1m1 -1v1m1 -1v1m1 -1v1m1 -1v1m1 -2v1m1 -1v1m1 -1v1m1 -1v1m1 -2v1m1 -1v1m1 -1v1m1 -1v1m1 -1v1m1 -1v1m1 -1v1m1 -1v1m1 -1v1m1 -2v1m1 -1v1m1 -2v1m1 -1v1m1 -2v1m1 -1v1m1 -1v1m1 -2v1m1 -1v1m1 -1v1m1 -1v1m1 -2v1m1 -1v1m1 -1v1m1 -1v1m1 0v1m1 -1v1m1 -1v1m1 -1v1m1 -1v1m1 0v1m1 -1v1m1 -1v1m1 -1v1m1 -1v1m1 -1v1m1 0v1m1 -1v1m1 -1v1m1 -1v1m1 -1v1m1 0v1m1 -1v1m1 -1v1m1 0v1m1 -1v1m1 0v1m1 0v1m1 0v1m1 0v1m1 0v1m1 0v1m1 0v1m1 0v1m1 0v1m1 0v1m1 0v1m1 0v1m1 0v1m1 0v1m1 0v1m1 0v1m1 0v1m1 0v1m1 0v1m1 0v1m1 0v1m1 0v1m1 0v1m1 0v1m1 -1v1m1 0v1m1 -1v1m1 0v1m1 -1v1m1 0v1m1 0v1m1 -1v1m1 0v1m1 -1v1m1 0v1m1 -1v1m1 0v1m1 -1v1m1 0v1m1 -1v1m1 0v1m1 0v1m1 -1v1m1 0v1m1 0v1m1 0v2m1 0v1m1 0v1m1 0v2m1 0v2m1 0v1m1 -1v1m1 0v1m1 0v1m1 -1v1m1 0v1m1 0v1m1 -1v1m1 0v1m1 0v1m1 -1v1m1 0v1m1 0v1m1 -1v1m1 0v1m1 0v1m1 -1v1m1 0v1m1 0v1m1 0v1m1 0v1m1 -1v1m1 0v1m1 0v1m1 0v1m1 -1v1m1 0v1m1 -1v1m1 0v1m1 -1v1m1 0v2m1 0v1m1 0v2m1 0v1m1 0v1m1 0v1m1 -1v1m1 0v1m1 0v1m1 0v1m1 0v1m1 -1v1m1 0v1m1 0v1m1 -1v1m1 0v1m1 -1v1m1 0v1m1 -1v1m1 0v1m1 -1v1m1 0v1m1 -1v1m1 0v1m1 -1v1m1 0v1m1 -1v1m1 0v1m1 -1v1m1 0v1m1 0v1m1 -1v1m1 0v1m1 -1v1m1 0v1m1 -1v1m1 -1v1m1 0v1m1 -1v1m1 0v1m1 0v1m1 0v1m1 0v1m1 0v1m1 0v1m1 0v1m1 0v1m1 0v2m1 0v1m1 0v1m1 0v1m1 0v1m1 0v1m1 0v2m1 0v3m1 0v2m1 0v1m1 0v2m1 0v1m1 0v1m1 0v1m1 -1v1m1 0v1m1 0v1m1 -1v1m1 0v1m1 0v1m1 0v1m1 0v1m1 -1v1m1 0v1m1 0v1m1 0v1m1 0v1m1 0v1m1 -1v1m1 0v1m1 0v1m1 0v1m1 -1v1m1 0v1m1 -1v1m1 0v1m1 -1v1m1 0v2m1 0v3m1 0v2m1 0v3m1 0v2m1 0v3m1 0v2m1 0v2m1 0v2m1 0v2m1 0v2m1 0v2m1 0v2m1 0v2m1 0v2m1 0v3m1 0v2m1 0v2m1 0v1m1 0v2m1 0v1m1 0v1m1 0v1m1 0v1m1 0v1m1 0v1m1 0v2m1 0v1m1 0v2m1 0v1m1 0v2m1 0v1m1 0v1m1 0v1m1 0v1m1 0v2m1 0v1m1 0v1m1 0v2m1 0v2m1 0v2m1 0v2m1 0v2m1 0v1m1 0v2m1 0v1m1 0v1m1 0v2m1 0v1m1 0v1m1 0v1m1 0v1m1 -1v1m1 0v1m1 -1v1m1 -1v1m1 -1v1m1 0v1m1 -1v1m1 -1v1m1 -1v1m1 -1v1m1 -1v1m1 -1v1m1 -1v1m1 -1v1m1 -1v1m1 -1v1m1 -1v1m1 -1v1m1 -1v1m1 -1v1m1 -1v1m1 -1v1m1 -1v1m1 -1v1m1 -1v1m1 -1v1m1 -2v1m1 -1v1m1 -1v1m1 -1v1m1 -2v1m1 -1v1m1 -2v1m1 -1v1m1 -2v1m1 -1v1m1 -1v1m1 -2v1m1 -1v1m1 -1v1m1 -2v1m1 -1v1m1 -1v1m1 -1v1m1 -1v1m1 -1v1m1 -1v1m1 -1v1m1 -1v1m1 -1v1m1 -1v1m1 -1v1m1 -1v1m1 -1v1m1 -1v1m1 -1v1m1 -1v1m1 -1v1m1 -1v1m1 0v1m1 -1v1m1 -1v1m1 -1v1m1 -1v1m1 -1v1m1 -1v1m1 -1v1m1 0v1m1 -1v1m1 -1v1m1 -1v1m1 -1v1m1 -1v1m1 -1v1m1 -1v1m1 -2v1m1 -1v1m1 -1v1m1 -1v1m1 -1v1m1 -1v1m1 -1v1m1 -1v1m1 -2v1m1 -1v1m1 -1v1m1 -1v1m1 -1v1m1 -1v1m1 -2v1m1 -1v1m1 -1v1m1 -2v1m1 -1v1m1 -2v1m1 -1v1m1 -2v1m1 -1v1m1 -2v1m1 -1v1m1 -2v1m1 -1v1m1 -2v1m1 -1v1m1 -2v1m1 -1v1m1 -2v1m1 -1v1m1 -2v1m1 -1v1m1 -2v1m1 -1v1m1 -2v1m1 -1v1m1 -2v1m1 -1v1m1 -2v1m1 -1v1m1 -2v1m1 -1v1m1 -2v1m1 -1v1m1 -2v1m1 -1v1m1 -1v1m1 -1v1m1 -2v1m1 -1v1m1 -1v1m1 -1v1m1 -1v1m1 -1v1m1 -1v1m1 -2v1m1 -1v1m1 -1v1m1 -1v1m1 -1v1m1 -1v1m1 -1v1m1 -1v1m1 -2v1m1 -1v1m1 -1v1m1 -1v1m1 -1v1m1 -1v1m1 -1v1m1 -2v1m1 -1v1m1 -1v1m1 -1v1m1 -1v1m1 0v1m1 -1v1m1 -1v1m1 0v1m1 -1v1m1 0v1m1 0v1m1 -1v1m1 0v1m1 0v1m1 -1v1m1 0v1m1 -1v1m1 0v1m1 -1v1m1 0v1m1 -1v1m1 0v1m1 -1v1m1 0v1m1 -1v1m1 -1v1m1 0v1m1 -1v1m1 -1v1m1 0v1m1 -1v1m1 -1v1m1 -1v1m1 -1v1m1 -1v1m1 -1v1m1 -1v1m1 -1v1m1 -1v1m1 -1v1m1 -2v1m1 -1v1m1 -1v1m1 -1v1m1 -2v1m1 -1v1m1 -2v1m1 -1v1m1 -2v1m1 -1v1m1 -2v1m1 -1v1m1 -2v1m1 -2v1m1 -1v1m1 -2v1m1 -2v1m1 -1v1m1 -2v1m1 -2v1m1 -1v1m1 -2v1m1 -2v1m1 -1v1m1 -2v1m1 -1v1m1 -2v1m1 -1v1m1 -2v1m1 -1v1m1 -2v1m1 -1v1m1 -2v1m1 -1v1m1 -2v1m1 -1v1m1 -1v1m1 -2v1m1 -1v1m1 -2v1m1 -1v1m1 -2v1m1 -1v1m1 -1v1m1 -2v1m1 -1v1m1 -2v1m1 -1v1m1 -1v1m1 -2v1m1 -1v1m1 -2v1m1 -1v1m1 -2v1m1 -1v1m1 -3v2m1 -3v1m1 -2v1m1 -3v2m1 -3v1m1 -3v2m1 -3v1m1 -3v2m1 -4v2m1 -3v1m1 -3v2m1 -4v2m1 -4v2m1 -4v2m1 -4v2m1 -4v2m1 -4v2m1 -4v2m1 -4v2m1 -3v1m1 -3v2m1 -4v2m1 -3v1m1 -3v2m1 -3v1m1 -2v1m1 -3v2m1 -3v1m1 -2v1m1 -3v2m1 -3v1m1 -2v1m1 -3v2m1 -3v1m1 -2v1m1 -2v1m1 -2v1m1 -2v1m1 -2v1m1 -2v1m1 -2v1m1 -2v1m1 -2v1m1 -1v1m1 -2v1m1 -2v1m1 -1v1m1 -2v1m1 -1v1m1 -1v1m1 -2v1m1 -1v1m1 -1v1m1 -2v1m1 -1v1m1 -1v1m1 -2v1m1 -1v1m1 -1v1m1 -1v1m1 -2v1m1 -1v1m1 -1v1m1 -1v1m1 -1v1m1 -2v1m1 -1v1m1 -1v1m1 -2v1m1 -1v1m1 -1v1m1 -2v1m1 -1v1m1 -1v1m1 -2v1m1 -1v1m1 -2v1m1 -1v1m1 -2v1m1 -1v1m1 -2v1m1 -1v1m1 -1v1m1 -2v1m1 -1v1m1 -1v1m1 -2v1m1 -1v1m1 -1v1m1 -1v1m1 -1v1m1 -1v1m1 -1v1m1 -1v1m1 -1v1m1 -1v1m1 -1v1m1 0v1m1 -1v1m1 -1v1m1 -1v1m1 -1v1m1 0v1m1 -1v1m1 -1v1m1 0v1m1 -1v1m1 -1v1m1 -1v1m1 -2v1m1 -1v1m1 -1v1m1 -1v1m1 -2v1m1 -1v1m1 -2v1m1 -1v1m1 -2v1m1 -1v1m1 -2v1m1 -1v1m1 -2v1m1 -1v1m1 -2v1m1 -1v1m1 -1v1m1 -2v1m1 -1v1m1 -1v1m1 -2v1m1 -1v1m1 -1v1m1 -2v1m1 -1v1m1 -2v1m1 -1v1m1 -2v1m1 -2v1m1 -1v1m1 -2v1m1 -1v1m1 -2v1m1 -1v1m1 -1v1m1 -1v1m1 -2v1m1 -1v1m1 -1v1m1 -1v1m1 -1v1m1 -2v1m1 -1v1m1 -1v1m1 -1v1m1 -2v1m1 -1v1m1 -2v1m1 -1v1m1 -2v1m1 -1v1m1 -2v1m1 -1v1m1 -2v1m1 -1v1m1 -2v1m1 -1v1m1 -2v1m1 -1v1m1 -2v1m1 -1v1m1 -2v1m1 -1v1m1 -2v1m1 -1v1m1 -2v1m1 -1v1m1 -2v1m1 -1v1m1 -2v1m1 -2v1m1 -2v1m1 -2v1m1 -2v1" fill="none" stroke="#0f0" stroke-width="1" shape-rendering="crispEdges"/>
<path d="M0.5 186v1m1 -2v1m1 -1v1m1 -2v1m1 -1v1m1 -2v1m1 -1v1m1 -2v1m1 -1v1m1 -2v1m1 -2v1m1 -1v1m1 -2v1m1 -2v1m1 -1v1m1 -2v1m1 -2v1m1 -1v1m1 -2v1m1 -1v1m1 -2v1m1 -1v1m1 -1v1m1 -1v1m1 -1v1m1 -1v1m1 -1v1m1 -1v1m1 -1v1m1 -1v1m1 -2v1m1 -2v1m1 -2v1m1 -2v1m1 -2v1m1 -2v1m1 -2v1m1 -2v1m1 -3v2m1 -3v1m1 -2v1m1 -3v2m1 -3v1m1 -2v1m1 -2v1m1 -2v1m1 -2v1m1 -3v2m1 -3v1m1 -2v1m1 -2v1m1 -2v1m1 -1v1m1 -2v1m1 -2v1m1 -1v1m1 -2v1m1 -1v1m1 -2v1m1 -2v1m1 -1v1m1 -2v1m1 -2v1m1 -1v1m1 -2v1m1 -1v1m1 -2v1m1 -2v1m1 -2v1m1 -2v1m1 -2v1m1 -2v1m1 -2v1m1 -2v1m1 -2v1m1 -2v1m1 -3v2m1 -3v1m1 -2v1m1 -3v2m1 -3v1m1 -2v1m1 -3v2m1 -3v1m1 -2v1m1 -3v2m1 -3v1m1 -2v1m1 -2v1m1 -2v1m1 -2v1m1 -1v1m1 -1v1m1 -1v1m1 -1v1m1 -1v1m1 -1v1m1 -1v1m1 -1v1m1 -1v1m1 0v1m1 -1v1m1 0v1m1 -1v1m1 -1v1m1 0v1m1 -1v1m1 -1v1m1 -1v1m1 0v1m1 -1v1m1 -1v1m1 -1v1m1 -1v1m1 -1v1m1 -2v1m1 -1v1m1 -1v1m1 -1v1m1 0v1m1 -1v1m1 0v1m1 -1v1m1 -1v1m1 -2v1m1 -1v1m1 -1v1m1 -2v1m1 -1v1m1 -2v1m1 -1v1m1 -2v1m1 -2v1m1 -1v1m1 -2v1m1 -2v1m1 -1v1m1 -2v1m1 -1v1m1 -2v1m1 -1v1m1 -1v1m1 -1v1m1 -1v1m1 -1v1m1 -1v1m1 -1v1m1 -1v1m1 -1v1m1 -1v1m1 0v1m1 -1v1m1 -1v1m1 0v1m1 -1v1m1 0v1m1 -1v1m1 0v1m1 -1v1m1 0v1m1 -1v1m1 -1v1m1 0v1m1 -1v1m1 -1v1m1 -1v1m1 0v1m1 -1v1m1 -1v1m1 0v1m1 -1v1m1 -1v1m1 0v1m1 -1v1m1 -1v1m1 0v1m1 -1v1m1 -1v1m1 -1v1m1 -2v1m1 -1v1m1 -2v1m1 -1v1m1 -2v1m1 -1v1m1 -2v1m1 -1v1m1 -2v1m1 -1v1m1 -2v1m1 -1v1m1 -2v1m1 -1v1m1 -1v1m1 -1v1m1 -1v1m1 -2v1m1 -1v1m1 -1v1m1 -1v1m1 -1v1m1 -1v1m1 -1v1m1 -1v1m1 0v1m1 -1v1m1 -1v1m1 -1v1m1 -1v1m1 -2v1m1 -1v1m1 -2v1m1 -2v1m1 -1v1m1 -2v1m1 -2v1m1 -1v1m1 -2v1m1 -1v1m1 -2v1m1 -1v1m1 -1v1m1 -1v1m1 -1v1m1 -1v1m1 0v1m1 0v1m1 0v1m1 0v1m1 -1v1m1 0v1m1 -1v1m1 0v1m1 -1v1m1 -1v1m1 0v1m1 -1v1m1 0v1m1 -1v1m1 -1v1m1 0v1m1 -1v1m1 0v1m1 -1v1m1 0v2m1 0v1m1 0v1m1 0v2m1 0v1m1 0v2m1 0v2m1 0v2m1 0v1m1 0v2m1 0v2m1 0v2m1 0v3m1 0v3m1 0v2m1 0v2m1 0v1m1 0v2m1 0v1m1 0v2m1 0v1m1 0v2m1 0v1m1 0v2m1 0v1m1 0v2m1 0v1m1 0v2m1 0v1m1 0v1m1 -1v1m1 0v1m1 0v1m1 -1v1m1 0v1m1 0v1m1 0v1m1 -1v1m1 0v1m1 0v1m1 -1v1m1 0v1m1 -1v1m1 -1v1m1 0v2m1 0v2m1 0v2m1 0v1m1 0v1m1 0v2m1 0v1m1 0v1m1 0v2m1 0v1m1 0v1m1 0v1m1 0v1m1 -1v1m1 0v1m1 0v1m1 0v1m1 -1v1m1 0v1m1 0v1m1 0v1m1 -1v1m1 0v1m1 -1v1m1 0v1m1 0v1m1 0v1m1 0v1m1 0v1m1 0v1m1 0v1m1 0v1m1 0v2m1 0v1m1 0v1m1 0v2m1 0v1m1 0v2m1 0v1m1 0v1m1 0v2m1 0v1m1 0v1m1 0v1m1 0v2m1 0v1m1 0v1m1 0v1m1 0v1m1 -1v1m1 0v1m1 -1v1m1 0v1m1 -1v1m1 -1v1m1 0v1m1 -1v1m1 0v1m1 -1v1m1 0v1m1 -1v1m1 0v1m1 -1v1m1 0v1m1 -1v1m1 0v1m1 -1v1m1 0v1m1 -1v1m1 -1v1m1 -1v1m1 0v1m1 -1v1m1 -1v1m1 -1v1m1 0v1m1 0v1m1 -1v1m1 0v1m1 0v1m1 0v2m1 0v1m1 0v1m1 0v2m1 0v1m1 0v2m1 0v1m1 0v2m1 0v2m1 0v2m1 0v1m1 0v2m1 0v2m1 0v2m1 0v2m1 0v2m1 0v1m1 0v2m1 0v1m1 0v1m1 0v1m1 0v1m1 0v1m1 0v1m1 0v1m1 0v1m1 0v1m1 0v1m1 -1v1m1 0v1m1 0v1m1 -1v1m1 0v1m1 0v1m1 0v1m1 0v1m1 -1v1m1 0v1m1 0v1m1 0v1m1 0v1m1 0v1m1 0v2m1 0v4m1 0v2m1 0v2m1 0v2m1 0v3m1 0v3m1 0v4m1 0v3m1 0v3m1 0v4m1 0v3m1 0v3m1 0v4m1 0v3m1 0v3m1 0v4m1 0v3m1 0v3m1 0v4m1 0v2m1 0v2m1 0v2m1 0v1m1 0v1m1 0v1m1 0v1m1 0v1m1 0v1m1 0v1m1 0v2m1 0v1m1 0v1m1 0v2m1 0v1m1 0v2m1 0v1m1 0v2m1 0v2m1 0v2m1 0v1m1 0v2m1 0v1m1 0v2m1 0v1m1 0v2m1 0v1m1 0v2m1 0v1m1 0v1m1 -1v1m1 0v1m1 -1v1m1 -1v1m1 -1v1m1 -1v1m1 -1v1m1 -1v1m1 -2v1m1 -2v1m1 -1v1m1 -2v1m1 -2v1m1 -3v2m1 -3v1m1 -2v1m1 -2v1m1 -3v2m1 -3v1m1 -2v1m1 -2v1m1 -2v1m1 -1v1m1 -2v1m1 -2v1m1 -2v1m1 -1v1m1 -2v1m1 -2v1m1 -2v1m1 -2v1m1 -2v1m1 -2v1m1 -3v2m1 -3v1m1 -2v1m1 -2v1m1 -2v1m1 -3v2m1 -3v1m1 -2v1m1 -3v2m1 -3v1m1 -3v2m1 -3v1m1 -2v1m1 -1v1m1 -2v1m1 -2v1m1 -1v1m1 -2v1m1 -2v1m1 -1v1m1 -2v1m1 -2v1m1 -1v1m1 -2v1m1 -1v1m1 -1v1m1 -1v1m1 -1v1m1 0v1m1 -1v1m1 0v1m1 -1v1m1 -1v1m1 -1v1m1 -1v1m1 -1v1m1 -1v1m1 -1v1m1 -2v1m1 -2v1m1 -1v1m1 -2v1m1 -2v1m1 -1v1m1 -2v1m1 -1v1m1 -2v1m1 -1v1m1 -1v1m1 0v1m1 -1v1m1 -1v1m1 -2v1m1 -2v1m1 -1v1m1 -2v1m1 -2v1m1 -2v1m1 -2v1m1 -2v1m1 -2v1m1 -2v1m1 -2v1m1 -2v1m1 -2v1m1 -2v1m1 -2v1m1 -2v1m1 -2v1m1 -2v1m1 -2v1m1 -1v1m1 -2v1m1 -2v1m1 -2v1m1 -1v1m1 -2v1m1 -2v1m1 -1v1m1 -2v1m1 -2v1m1 -1v1m1 -2v1m1 -1v1m1 -2v1m1 -1v1m1 -2v1m1 -2v1m1 -1v1m1 -2v1m1 -2v1m1 -2v1m1 -2v1m1 -2v1m1 -2v1m1 -2v1m1 -2v1m1 -2v1m1 -1v1m1 -2v1m1 -1v1m1 -1v1m1 -1v1m1 -1v1m1 -1v1m1 -1v1m1 -1v1m1 -1v1m1 -1v1m1 -1v1m1 -1v1m1 -1v1m1 -1v1m1 -1v1m1 -1v1m1 -1v1m1 -1v1m1 -1v1m1 -1v1m1 -1v1m1 -1v1m1 -1v1m1 -1v1m1 0v1m1 0v1m1 0v1m1 0v1m1 0v2m1 0v1m1 0v1m1 0v1m1 0v1m1 0v1m1 0v1m1 0v1m1 0v1m1 0v1m1 0v1m1 0v1m1 0v1m1 -1v1m1 0v1m1 0v1m1 0v1m1 -1v1m1 0v1m1 -1v1m1 0v1m1 -1v1m1 -1v1m1 -1v1m1 -1v1m1 -1v1m1 -1v1m1 -1v1m1 -1v1m1 -1v1m1 -1v1m1 -2v1m1 -1v1m1 -1v1m1 -2v1m1 -2v1m1 -1v1m1 -2v1m1 -2v1m1 -2v1m1 -2v1m1 -2v1m1 -2v1m1 -3v2m1 -3v1m1 -2v1m1 -2v1m1 -3v2m1 -3v1m1 -2v1m1 -2v1m1 -2v1m1 -2v1m1 -2v1m1 -2v1m1 -2v1m1 -1v1m1 -2v1m1 -1v1m1 -2v1m1 -1v1m1 -2v1m1 -2v1m1 -1v1m1 -2v1m1 -2v1m1 -2v1m1 -1v1m1 -2v1m1 -1v1m1 -2v1m1 -2v1m1 -1v1m1 -2v1m1 -2v1m1 -1v1m1 -2v1m1 -2v1m1 -2v1m1 -2v1m1 -1v1m1 -2v1m1 -2v1m1 -3v2m1 -4v2m1 -4v2m1 -4v2m1 -4v2m1 -5v3m1 -6v3m1 -6v3m1 -7v4m1 -7v3m1 -5v2m1 -5v3m1 -5v2m1 -5v3m1 -5v2m1 -5v3m1 -5v2m1 -5v3m1 -5v2m1 -4v2m1 -4v2m1 -4v2m1 -4v2m1 -4v2m1 -4v2m1 -3v1m1 -3v2m1 -4v2m1 -4v2m1 -4v2m1 -4v2m1 -4v2m1 -4v2m1 -3v1m1 -3v2m1 -4v2m1 -4v2m1 -3v1m1 -2v1m1 -3v2m1 -3v1m1 -2v1m1 -2v1m1 -2v1m1 -2v1m1 -2v1m1 -2v1m1 -2v1m1 -2v1m1 -1v1m1 -2v1m1 -1v1m1 0v1m1 -1v1m1 -1v1m1 -1v1m1 0v1m1 -1v1m1 0v1m1 -1v1m1 -1v1m1 -1v1m1 0v1m1 -1v1m1 -1v1m1 -1v1m1 -1v1m1 0v1m1 -1v1m1 -1v1m1 0v1m1 -1v1m1 -1v1m1 -1v1m1 -1v1m1 -1v1m1 -2v1m1 -2v1m1 -1v1m1 -2v1m1 -1v1m1 -1v1m1 -2v1m1 -1v1m1 -1v1m1 -1v1m1 -1v1m1 0v1m1 -1v1m1 -1v1m1 0v1m1 -1v1m1 -1v1m1 0v1m1 -1v1m1 -1v1m1 0v1m1 -1v1m1 0v1m1 0v1m1 -1v1m1 0v1m1 0v1m1 0v1m1 0v1m1 0v1m1 -1v1m1 0v1m1 0v1m1 0v1m1 0v1m1 -1v1m1 0v1m1 -1v1m1 -2v1m1 -1v1m1 -1v1m1 -2v1m1 -2v1m1 -2v1m1 -2v1m1 -2v1m1 -1v1m1 -2v1m1 -1v1m1 -2v1m1 -1v1m1 -2v1m1 -1v1m1 -2v1m1 -1v1m1 -2v1m1 -1v1m1 -1v1m1 -1v1m1 -2v1m1 -1v1m1 -1v1m1 -2v1m1 -1v1m1 -1v1m1 -2v1m1 -1v1m1 -1v1m1 -2v1m1 -1v1m1 -1v1m1 -2v1m1 -1v1m1 -1v1m1 -2v1m1 -1v1m1 -1v1m1 -2v1m1 -1v1m1 -1v1m1 -2v1m1 -1v1m1 -2v1m1 -1v1m1 -2v1m1 -1v1m1 -2v1m1 -1v1m1 -1v1m1 -2v1m1 -1v1m1 -1v1m1 -2v1m1 -1v1m1 -2v1m1 -1v1m1 -2v1m1 -2v1m1 -1v1m1 -2v1m1 -2v1m1 -2v1m1 -2v1m1 -2v1m1 -2v1m1 -3v2m1 -3v1m1 -2v1m1 -3v2m1 -4v2m1 -4v2" fill="none" stroke="#00f" stroke-width="1" shape-rendering="crispEdges"/>
<g shape-rendering="crispEdges" stroke-width="1">
<line x1="0" y1="50.5" x2="946" y2="50.5" stroke="#f00" stroke-dasharray="18 6"/>
<line x1="713" y1="24.5" x2="946" y2="24.5" stroke="#f00" stroke-dasharray="3 3"/>
<line x1="713" y1="118.5" x2="946" y2="118.5" stroke="#f00"/>
<line x1="713" y1="270.5" x2="946" y2="270.5" stroke="#f00"/>
<line x1="410" y1="139.5" x2="946" y2="139.5" stroke="#00f" stroke-dasharray="3 3"/>
<line x1="410" y1="286.5" x2="946" y2="286.5" stroke="#00f"/>
<line x1="410" y1="524.5" x2="946" y2="524.5" stroke="#00f"/>
<line x1="614" y1="382.5" x2="759" y2="382.5" stroke="#00f"/>
</g>
<g shape-rendering="crispEdges" fill="#0f0">
<rect x="734" y="287" width="2" height="237"/>
</g>
<line x1="422.7" y1="343.9" x2="867.4" y2="17.7" stroke="#00f" stroke-width="2.45" shape-rendering="crispEdges"/>
<line x1="430.9" y1="521.6" x2="867.3" y2="196" stroke="#00f" stroke-width="2.45" shape-rendering="crispEdges"/>
<g shape-rendering="crispEdges" fill="#0f0">
<rect x="705" y="147" width="2" height="238"/>
<rect x="867" y="34" width="2" height="238"/>
</g>
<g stroke="#000" stroke-width="1" shape-rendering="crispEdges">
<line x1="946.5" y1="0" x2="946.5" y2="579"/>
<line x1="0" y1="578.5" x2="947" y2="578.5"/>
<line x1="0" y1="593.5" x2="947" y2="593.5"/>
<line x1="21.5" y1="578" x2="21.5" y2="594"/>
<line x1="79.5" y1="578" x2="79.5" y2="594"/>
<line x1="140.5" y1="578" x2="140.5" y2="594"/>
<line x1="202.5" y1="578" x2="202.5" y2="594"/>
<line x1="263.5" y1="578" x2="263.5" y2="594"/>
<line x1="325.5" y1="578" x2="325.5" y2="594"/>
<line x1="387.5" y1="578" x2="387.5" y2="594"/>
<line x1="436.5" y1="578" x2="436.5" y2="594"/>
<line x1="498.5" y1="578" x2="498.5" y2="594"/>
<line x1="559.5" y1="578" x2="559.5" y2="594"/>
<line x1="621.5" y1="578" x2="621.5" y2="594"/>
<line x1="682.5" y1="578" x2="682.5" y2="594"/>
<line x1="744.5" y1="578" x2="744.5" y2="594"/>
<line x1="805.5" y1="578" x2="805.5" y2="594"/>
<line x1="867.5" y1="578" x2="867.5" y2="594"/>
<line x1="21.5" y1="578" x2="21.5" y2="608"/>
<line x1="289.5" y1="578" x2="289.5" y2="608"/>
<line x1="559.5" y1="578" x2="559.5" y2="608"/>
<line x1="805.5" y1="578" x2="805.5" y2="608"/>
<line x1="947" y1="11.5" x2="954" y2="11.5"/>
<line x1="947" y1="35.5" x2="954" y2="35.5"/>
<line x1="947" y1="59.5" x2="954" y2="59.5"/>
<line x1="947" y1="83.5" x2="954" y2="83.5"/>
<line x1="947" y1="107.5" x2="954" y2="107.5"/>
<line x1="947" y1="132.5" x2="954" y2="132.5"/>
<line x1="947" y1="157.5" x2="954" y2="157.5"/>
<line x1="947" y1="181.5" x2="954" y2="181.5"/>
<line x1="947" y1="205.5" x2="954" y2="205.5"/>
<line x1="947" y1="229.5" x2="954" y2="229.5"/>
<line x1="947" y1="253.5" x2="954" y2="253.5"/>
<line x1="947" y1="278.5" x2="954" y2="278.5"/>
<line x1="947" y1="302.5" x2="954" y2="302.5"/>
<line x1="947" y1="327.5" x2="954" y2="327.5"/>
<line x1="947" y1="351.5" x2="954" y2="351.5"/>
<line x1="947" y1="376.5" x2="954" y2="376.5"/>
<line x1="947" y1="400.5" x2="954" y2="400.5"/>
<line x1="947" y1="424.5" x2="954" y2="424.5"/>
<line x1="947" y1="449.5" x2="954" y2="449.5"/>
<line x1="947" y1="473.5" x2="954" y2="473.5"/>
<line x1="947" y1="497.5" x2="954" y2="497.5"/>
<line x1="947" y1="522.5" x2="954" y2="522.5"/>
<line x1="947" y1="546.5" x2="954" y2="546.5"/>
<line x1="947" y1="570.5" x2="954" y2="570.5"/>
<line x1="947" y1="22.5" x2="950" y2="22.5"/>
<line x1="947" y1="46.5" x2="950" y2="46.5"/>
<line x1="947" y1="71.5" x2="950" y2="71.5"/>
<line x1="947" y1="96.5" x2="950" y2="96.5"/>
<line x1="947" y1="120.5" x2="950" y2="120.5"/>
<line x1="947" y1="144.5" x2="950" y2="144.5"/>
<line x1="947" y1="169.5" x2="950" y2="169.5"/>
<line x1="947" y1="193.5" x2="950" y2="193.5"/>
<line x1="947" y1="217.5" x2="950" y2="217.5"/>
<line x1="947" y1="241.5" x2="950" y2="241.5"/>
<line x1="947" y1="265.5" x2="950" y2="265.5"/>
<line x1="947" y1="290.5" x2="950" y2="290.5"/>
<line x1="947" y1="314.5" x2="950" y2="314.5"/>
<line x1="947" y1="339.5" x2="950" y2="339.5"/>
<line x1="947" y1="363.5" x2="950" y2="363.5"/>
<line x1="947" y1="388.5" x2="950" y2="388.5"/>
<line x1="947" y1="412.5" x2="950" y2="412.5"/>
<line x1="947" y1="436.5" x2="950" y2="436.5"/>
<line x1="947" y1="461.5" x2="950" y2="461.5"/>
<line x1="947" y1="485.5" x2="950" y2="485.5"/>
<line x1="947" y1="509.5" x2="950" y2="509.5"/>
<line x1="947" y1="534.5" x2="950" y2="534.5"/>
<line x1="947" y1="559.5" x2="950" y2="559.5"/>
</g>
<g fill="#000">
<text x="990.5" y="16.8" text-anchor="end">1060</text>
<text x="990.5" y="40.8" text-anchor="end">1050</text>
<text x="990.5" y="64.8" text-anchor="end">1040</text>
<text x="990.5" y="88.8" text-anchor="end">1030</text>
<text x="990.5" y="112.8" text-anchor="end">1020</text>
<text x="990.5" y="137.8" text-anchor="end">1010</text>
<text x="990.5" y="162.8" text-anchor="end">1000</text>
<text x="990.5" y="186.8" text-anchor="end">990</text>
<text x="990.5" y="210.8" text-anchor="end">980</text>
<text x="990.5" y="234.8" text-anchor="end">970</text>
<text x="990.5" y="258.8" text-anchor="end">960</text>
<text x="990.5" y="283.8" text-anchor="end">950</text>
<text x="990.5" y="307.8" text-anchor="end">940</text>
<text x="990.5" y="332.8" text-anchor="end">930</text>
<text x="990.5" y="356.8" text-anchor="end">920</text>
<text x="990.5" y="381.8" text-anchor="end">910</text>
<text x="990.5" y="405.8" text-anchor="end">900</text>
<text x="990.5" y="429.8" text-anchor="end">890</text>
<text x="990.5" y="454.8" text-anchor="end">880</text>
<text x="990.5" y="478.8" text-anchor="end">870</text>
<text x="990.5" y="502.8" text-anchor="end">860</text>
<text x="990.5" y="527.8" text-anchor="end">850</text>
<text x="990.5" y="551.8" text-anchor="end">840</text>
<text x="990.5" y="575.8" text-anchor="end">830</text>
<text x="23.4" y="591">2</text>
<text x="81.4" y="591">9</text>
<text x="142.4" y="591">16</text>
<text x="204.4" y="591">23</text>
<text x="265.4" y="591">30</text>
<text x="327.4" y="591">6</text>
<text x="389.4" y="591">13</text>
<text x="438.4" y="591">20</text>
<text x="500.4" y="591">27</text>
<text x="561.4" y="591">3</text>
<text x="623.4" y="591">10</text>
<text x="684.4" y="591">17</text>
<text x="746.4" y="591">24</text>
<text x="807.4" y="591">1</text>
<text x="869.4" y="591">8</text>
<text x="23.5" y="605">July</text>
<text x="291.5" y="605">August</text>
<text x="561.5" y="605">September</text>
<text x="807.5" y="605">October</text>
<text x="284" y="14" textLength="378" lengthAdjust="spacingAndGlyphs">WIG20 EURO (1029.3800, 1030.1000, 1027.3101, 1030.1000, +0.7899)</text>
</g>
<text x="58.4" y="30.2" fill="#008000" style='font-family:"Liberation Sans",Arial,sans-serif;font-size:12px' textLength="14" lengthAdjust="spacingAndGlyphs">(3)</text>
<text x="421.6" y="564.6" fill="#008000" style='font-family:"Liberation Serif","Times New Roman",serif;font-size:12px' textLength="13.8" lengthAdjust="spacingAndGlyphs">(4)</text>
<text x="210.6" y="59" fill="#00f" style='font-family:"Liberation Serif","Times New Roman",serif;font-size:12px' font-weight="bold">b</text>
<text x="161" y="160.8" fill="#00f" style='font-family:"Liberation Serif","Times New Roman",serif;font-size:12px' font-weight="bold">a</text>
<text x="347" y="229.6" fill="#00f" style='font-family:"Liberation Serif","Times New Roman",serif;font-size:12px' font-weight="bold">b</text>
<text x="287" y="278" fill="#00f" style='font-family:"Liberation Serif","Times New Roman",serif;font-size:12px' font-weight="bold">c</text>
<text x="751" y="230" fill="#00f" style='font-family:"Liberation Serif","Times New Roman",serif;font-size:12px' font-weight="bold">a</text>
<text x="811" y="283.8" fill="#00f" style='font-family:"Liberation Serif","Times New Roman",serif;font-size:12px' font-weight="bold">c</text>
<text x="779.8" y="158.8" fill="#00f" style='font-family:"Liberation Serif","Times New Roman",serif;font-size:12px' font-weight="bold">b</text>
<text x="321" y="324.5" fill="#00f" style='font-family:"Liberation Sans",Arial,sans-serif;font-size:12px' font-weight="bold">a</text>
<text x="435.6" y="391" fill="#00f" style='font-family:"Liberation Sans",Arial,sans-serif;font-size:12px' font-weight="bold">i</text>
<text x="449.3" y="500.5" fill="#00f" style='font-family:"Liberation Sans",Arial,sans-serif;font-size:12px' font-weight="bold" textLength="4.8" lengthAdjust="spacingAndGlyphs">ii</text>
<text x="475.3" y="311.6" fill="#00f" style='font-family:"Liberation Sans",Arial,sans-serif;font-size:12px' font-weight="bold" textLength="8.2" lengthAdjust="spacingAndGlyphs">iii</text>
<text x="487" y="367.8" fill="#00f" style='font-family:"Liberation Sans",Arial,sans-serif;font-size:12px' font-weight="bold">iv</text>
<text x="499" y="284" fill="#00f" style='font-family:"Liberation Sans",Arial,sans-serif;font-size:12px' font-weight="bold">v</text>
<text x="521.6" y="404" fill="#00f" style='font-family:"Liberation Sans",Arial,sans-serif;font-size:12px' font-weight="bold">a</text>
<text x="583.8" y="254.2" fill="#00f" style='font-family:"Liberation Serif","Times New Roman",serif;font-size:12px' font-weight="bold">b</text>
<text x="426" y="535" fill="#00f" style='font-family:"Liberation Sans",Arial,sans-serif;font-size:12px' font-weight="bold">c</text>
<text x="627.9" y="398" fill="#00f" style='font-family:"Liberation Sans",Arial,sans-serif;font-size:12px' font-weight="bold">c</text>
<text x="661.8" y="238" fill="#00f" style='font-family:"Liberation Sans",Arial,sans-serif;font-size:12px' font-weight="bold">i</text>
<text x="686" y="296.7" fill="#00f" style='font-family:"Liberation Sans",Arial,sans-serif;font-size:12px' font-weight="bold" textLength="4.8" lengthAdjust="spacingAndGlyphs">ii</text>
<text x="708" y="126.8" fill="#00f" style='font-family:"Liberation Sans",Arial,sans-serif;font-size:12px' font-weight="bold" textLength="8.2" lengthAdjust="spacingAndGlyphs">iii</text>
<text x="727" y="168.4" fill="#00f" style='font-family:"Liberation Sans",Arial,sans-serif;font-size:12px' font-weight="bold">iv</text>
<text x="735" y="105.6" fill="#00f" style='font-family:"Liberation Sans",Arial,sans-serif;font-size:12px' font-weight="bold">v</text>
<text x="821.4" y="149.5" fill="#00f" style='font-family:"Liberation Sans",Arial,sans-serif;font-size:12px' font-weight="bold">i</text>
<text x="844.6" y="229" fill="#00f" style='font-family:"Liberation Sans",Arial,sans-serif;font-size:12px' font-weight="bold" textLength="4.8" lengthAdjust="spacingAndGlyphs">ii</text>
<text x="307.8" y="212.9" fill="#f0f" style='font-family:"Liberation Sans",Arial,sans-serif;font-size:13px' font-weight="bold" textLength="7.5" lengthAdjust="spacingAndGlyphs">X</text>
<text x="284" y="298.6" fill="#f0f" style='font-family:"Liberation Sans",Arial,sans-serif;font-size:13px' font-weight="bold" textLength="13.7" lengthAdjust="spacingAndGlyphs">W</text>
<text x="424.6" y="548" fill="#f0f" style='font-family:"Liberation Sans",Arial,sans-serif;font-size:13px' font-weight="bold" textLength="8.6" lengthAdjust="spacingAndGlyphs">Y</text>
<text x="495.5" y="259.8" fill="#f0f" style='font-family:"Liberation Sans",Arial,sans-serif;font-size:13px' font-weight="bold">1</text>
<text x="734" y="87.5" fill="#f0f" style='font-family:"Liberation Serif","Times New Roman",serif;font-size:13px' font-weight="bold">3</text>
<text x="627.9" y="414.8" fill="#f0f" style='font-family:"Liberation Sans",Arial,sans-serif;font-size:13px' font-weight="bold" textLength="42" lengthAdjust="spacingAndGlyphs">2 - Flat</text>
<text x="807.8" y="298.9" fill="#f0f" style='font-family:"Liberation Serif","Times New Roman",serif;font-size:13px' font-weight="bold" textLength="58.5" lengthAdjust="spacingAndGlyphs">4 - Zigzag</text>
<text x="360.3" y="144" fill="#00f" style='font-family:"Liberation Sans",Arial,sans-serif;font-size:12px' textLength="39" lengthAdjust="spacingAndGlyphs">161.8%</text>
<text x="360.3" y="291" fill="#00f" style='font-family:"Liberation Sans",Arial,sans-serif;font-size:12px' textLength="39" lengthAdjust="spacingAndGlyphs">100.0%</text>
<text x="373.7" y="528.3" fill="#00f" style='font-family:"Liberation Sans",Arial,sans-serif;font-size:12px' textLength="26.5" lengthAdjust="spacingAndGlyphs">0.0%</text>
<text x="663" y="28.6" fill="#f00" style='font-family:"Liberation Sans",Arial,sans-serif;font-size:12px' textLength="39.5" lengthAdjust="spacingAndGlyphs">161.8%</text>
<text x="663" y="122.5" fill="#f00" style='font-family:"Liberation Sans",Arial,sans-serif;font-size:12px' textLength="39.5" lengthAdjust="spacingAndGlyphs">100.0%</text>
</svg></body></html>
